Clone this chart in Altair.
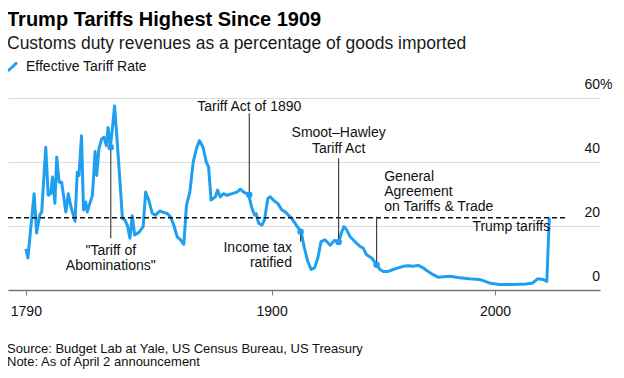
import altair as alt
import pandas as pd

# ---- data ----
years = [1790.0, 1790.9, 1793.7, 1794.8, 1796.2, 1797.1, 1798.9, 1800.0, 1801.2, 1801.9,
         1803.0, 1803.8, 1804.9, 1806.0, 1807.9, 1809.0, 1810.0, 1812.0, 1813.0, 1813.8,
         1814.9, 1815.8, 1816.8, 1817.5, 1818.6, 1819.8, 1821.0, 1821.7, 1822.7, 1823.9,
         1825.0, 1826.0, 1826.8, 1827.8, 1828.7, 1829.7, 1830.6, 1832.4, 1833.2, 1834.3,
         1835.4, 1836.6, 1837.6, 1838.7, 1840.6, 1842.5, 1843.6, 1845.0, 1846.6, 1848.0,
         1850.0, 1851.7, 1853.3, 1854.7, 1856.2, 1857.7, 1859.2, 1860.7, 1861.9, 1863.4,
         1864.9, 1866.3, 1867.7, 1869.3, 1870.8, 1871.8, 1872.9, 1874.8, 1875.8, 1877.0,
         1878.5, 1880.0, 1882.3, 1884.5, 1886.0, 1887.5, 1889.7, 1891.2, 1892.4, 1893.1,
         1894.2, 1895.7, 1896.8, 1898.3, 1899.4, 1900.8, 1902.8, 1904.6, 1906.1, 1907.5,
         1909.0, 1910.5, 1912.0, 1913.2, 1914.7, 1916.2, 1917.7, 1919.2, 1920.7, 1922.1,
         1923.9, 1926.2, 1928.1, 1929.7, 1930.3, 1931.4, 1932.4, 1933.6, 1935.1, 1937.3,
         1939.6, 1941.0, 1942.5, 1944.8, 1947.0, 1948.5, 1950.0, 1952.2, 1954.4, 1956.7,
         1958.9, 1961.1, 1963.4, 1965.6, 1967.9, 1970.1, 1972.3, 1974.5, 1979.7, 1984.2,
         1988.6, 1993.1, 1997.5, 2002.0, 2007.9, 2013.9, 2016.9, 2019.1, 2021.4, 2023.2,
         2024.3]
rates = [12.9, 10.0, 30.1, 17.8, 23.4, 24.4, 44.6, 29.6, 30.2, 35.3,
         27.1, 41.5, 33.7, 33.7, 24.4, 30.1, 26.5, 21.5, 36.8, 35.8,
         48.2, 25.0, 27.5, 24.4, 27.0, 29.6, 43.3, 35.8, 44.1, 47.2,
         47.7, 45.1, 50.8, 44.6, 50.3, 57.5, 49.2, 31.0, 22.4, 21.9,
         20.3, 16.2, 23.2, 17.2, 18.0, 19.8, 30.6, 28.1, 23.9, 23.4,
         24.7, 24.2, 23.9, 22.9, 20.3, 16.7, 15.7, 14.3, 26.5, 30.6,
         39.9, 44.1, 46.7, 44.6, 39.9, 38.4, 28.1, 29.1, 31.2, 29.1,
         30.1, 29.6, 30.1, 30.6, 31.5, 30.6, 29.8, 25.5, 23.4, 23.9,
         20.8, 20.3, 21.9, 28.6, 29.1, 28.1, 27.0, 25.0, 24.4, 23.4,
         22.4, 20.8, 19.3, 18.2, 13.1, 8.9, 6.4, 6.9, 10.0, 15.1,
         15.7, 14.0, 15.5, 15.0, 15.7, 18.2, 19.8, 18.8, 16.7, 15.1,
         13.6, 13.1, 11.0, 10.0, 7.9, 6.4, 5.8, 5.8, 6.4, 6.9,
         7.4, 7.6, 7.4, 7.7, 6.9, 5.8, 4.8, 4.0, 4.3, 3.8,
         3.5, 3.3, 2.2, 1.7, 1.7, 1.9, 2.2, 3.5, 3.3, 2.7,
         22.6]

x_ticks = [1790, 1900, 2000]
y_ticks = [0, 20, 40, 60]
y_labels = ["0", "20", "40", "60"]

trump_level = 22.6
trump_line_years = [1782, 2031.8]

# annotated events: dot position and leader line end
event_years = [1828, 1890, 1913, 1930, 1947]
event_values = [44.6, 29.8, 18.2, 15.0, 7.9]
leader_ends = [16.2, 55.2, 15.1, 41.2, 22.9]

# annotation text lines
ann_text = ['"Tariff of', 'Abominations"', 'Tariff Act of 1890', 'Income tax', 'ratified',
            'Smoot\u2013Hawley', 'Tariff Act', 'General', 'Agreement', 'on Tariffs & Trade',
            'Trump tariffs']
ann_year = [1828, 1828, 1890, 1909.1, 1909.1, 1930, 1930, 1950.4, 1950.4, 1950.4, 2024.7]
ann_value = [12.2, 7.6, 57.2, 13.1, 8.4, 49.0, 44.0, 35.4, 30.7, 26.0, 19.6]
ann_align = ['center', 'center', 'center', 'right', 'right', 'center', 'center',
             'left', 'left', 'left', 'right']

title = "Trump Tariffs Highest Since 1909"
subtitle = "Customs duty revenues as a percentage of goods imported"
legend_label = "Effective Tariff Rate"
source = "Source: Budget Lab at Yale, US Census Bureau, US Treasury"
note = "Note: As of April 2 announcement"

# ---- styling ----
FONT = "Liberation Sans"
BLUE = "#1f9ff0"
W, H = 592, 192

xs = alt.Scale(domain=[1782, 2047], nice=False, zero=False)
ys = alt.Scale(domain=[0, 60], nice=False, zero=True)

X_AXIS = alt.Axis(values=x_ticks, format="d", title=None, grid=False,
                  domainColor="#777777", domainWidth=1.6, tickColor="#777777",
                  tickSize=5, tickWidth=1, labelFont=FONT, labelFontSize=14,
                  labelColor="#111111", labelPadding=9, labelFlush=False)
Y_AXIS = alt.Axis(values=y_ticks, grid=True, gridColor="#dcdcdc", gridWidth=1,
                  labels=False, ticks=False, domain=False, title=None)


def X(field):
    return alt.X(field, scale=xs, axis=X_AXIS, title=None)


def Y(field):
    return alt.Y(field, scale=ys, axis=Y_AXIS, title=None)


df = pd.DataFrame({"year": years, "rate": rates})

line = alt.Chart(df).mark_line(color=BLUE, strokeWidth=3, strokeJoin="round").encode(
    x=X("year:Q"), y=Y("rate:Q"))

ylab_df = pd.DataFrame({"v": y_ticks, "lab": y_labels})
ylab = alt.Chart(ylab_df).mark_text(align="right", baseline="alphabetic", dy=-9,
                                    font=FONT, fontSize=14, color="#111111").encode(
    x=alt.value(W), y=Y("v:Q"), text="lab:N")
pct = alt.Chart(ylab_df[ylab_df["v"] == max(y_ticks)]).mark_text(
    align="left", baseline="alphabetic", dy=-9, font=FONT, fontSize=14,
    color="#111111").encode(x=alt.value(W), y=Y("v:Q"), text=alt.value("%"))

dash_df = pd.DataFrame({"x1": [trump_line_years[0]], "x2": [trump_line_years[1]],
                        "v": [trump_level]})
dash = alt.Chart(dash_df).mark_rule(color="#111111", strokeWidth=1.5,
                                    strokeDash=[5, 3]).encode(
    x=X("x1:Q"), x2="x2:Q", y=Y("v:Q"))

ev_df = pd.DataFrame({"year": event_years, "v": event_values, "end": leader_ends})
leaders = alt.Chart(ev_df).mark_rule(color="#333333", strokeWidth=1.1).encode(
    x=X("year:Q"), y=Y("v:Q"), y2="end:Q")
dots = alt.Chart(ev_df).mark_circle(color=BLUE, opacity=1, size=42).encode(
    x=X("year:Q"), y=Y("v:Q"))

ann_df = pd.DataFrame({"t": ann_text, "year": ann_year, "v": ann_value, "al": ann_align})
ann_layers = []
for al in ["left", "center", "right"]:
    sub = ann_df[ann_df["al"] == al]
    ann_layers.append(
        alt.Chart(sub).mark_text(align=al, baseline="middle", font=FONT, fontSize=14,
                                 color="#111111").encode(
            x=X("year:Q"), y=Y("v:Q"), text="t:N"))


def label(txt, x, y, size, weight="normal", color="#111111", baseline="alphabetic"):
    return alt.Chart(pd.DataFrame({"t": [txt]})).mark_text(
        align="left", baseline=baseline, font=FONT, fontSize=size, fontWeight=weight,
        color=color).encode(x=alt.value(x), y=alt.value(y), text="t:N")


header = [
    label(title, -1, -72.5, 20, weight="bold", color="#000000"),
    label(subtitle, -1, -49, 17.5, color="#1a1a1a"),
    label(legend_label, 18, -31, 14, baseline="middle"),
    label(source, -1, 250.5, 13, baseline="middle"),
    label(note, -1, 264, 13, baseline="middle"),
]
legend_mark = alt.Chart(pd.DataFrame({"k": [legend_label]})).mark_rule(
    color=BLUE, strokeWidth=3).encode(
    x=alt.value(0), x2=alt.value(9), y=alt.value(-27), y2=alt.value(-35.5))

chart = alt.layer(line, ylab, pct, dash, leaders, dots, *ann_layers, *header,
                  legend_mark).properties(
    width=W, height=H,
    padding={"left": 0, "top": 90, "right": 16, "bottom": 80},
    autosize=alt.AutoSizeParams(type="none"),
    background="white",
).configure_view(stroke=None)

chart.save("out.html", embed_options={"renderer": "svg", "actions": False})
